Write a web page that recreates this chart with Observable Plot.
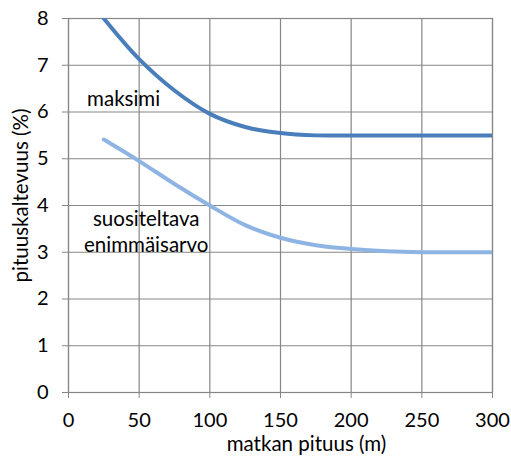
<!DOCTYPE html>
<html>
<head>
<meta charset="utf-8">
<script src="https://cdn.jsdelivr.net/npm/d3@7"></script>
<script src="https://cdn.jsdelivr.net/npm/@observablehq/plot@0.6"></script>
<style>
  html, body { margin: 0; padding: 0; background: #fff; }
  #chart { width: 511px; height: 458px; }
</style>
</head>
<body>
<div id="chart"></div>
<script>
// Data
const distances = [25, 50, 75, 100, 125, 150, 175, 200, 225, 250, 275, 300];
const maksimi = [8.0, 7.13, 6.46, 5.96, 5.68, 5.55, 5.5, 5.5, 5.5, 5.5, 5.5, 5.5];
const suositeltava = [5.41, 4.95, 4.46, 4.0, 3.58, 3.31, 3.15, 3.07, 3.02, 3.0, 3.0, 3.0];
const xTicks = [0, 50, 100, 150, 200, 250, 300];
const yTicks = [0, 1, 2, 3, 4, 5, 6, 7, 8];
const seriesNames = ["maksimi", "suositeltava\nenimmäisarvo"];
const labelX = [39, 55];
const labelY = [6.31, 3.46];
const xTitle = "matkan pituus (m)";
const yTitle = "pituuskaltevuus (%)";

const colors = ["#4A7EBB", "#8EB4E3"];
const rows = [];
distances.forEach((d, i) => {
  rows.push({series: "maksimi", x: d, y: maksimi[i]});
  rows.push({series: "suositeltava", x: d, y: suositeltava[i]});
});
const labels = seriesNames.map((n, i) => ({text: n, x: labelX[i], y: labelY[i]}));

const grid = "#868686";
const font = "Lato, 'Open Sans', sans-serif";
const fs = 20.5;

const chart = Plot.plot({
  width: 511,
  height: 458,
  marginLeft: 68,
  marginRight: 19,
  marginTop: 18,
  marginBottom: 66,
  style: {fontFamily: font, fontSize: fs + "px", color: "#000", background: "#fff", overflow: "visible"},
  x: {domain: [0, 300], ticks: xTicks},
  y: {domain: [0, 8], ticks: yTicks},
  marks: [
    Plot.gridX(xTicks, {stroke: grid, strokeOpacity: 1, strokeWidth: 1.2}),
    Plot.gridY(yTicks, {stroke: grid, strokeOpacity: 1, strokeWidth: 1.2}),
    Plot.frame({stroke: grid, strokeWidth: 1.2}),
    Plot.axisX(xTicks, {tickSize: 6, tickPadding: 14, stroke: grid, fontSize: 20, label: null}),
    Plot.axisY(yTicks, {tickSize: 6, tickPadding: 14, stroke: grid, fontSize: 20, label: null}),
    Plot.line(rows.filter(r => r.series === "suositeltava"), {x: "x", y: "y", stroke: colors[1], strokeWidth: 4, curve: "catmull-rom", clip: true}),
    Plot.line(rows.filter(r => r.series === "maksimi"), {x: "x", y: "y", stroke: colors[0], strokeWidth: 4, curve: "catmull-rom", clip: true}),
    Plot.text(labels, {x: "x", y: "y", text: "text", fontSize: fs, fill: "#000", lineHeight: 1.25}),
    Plot.text([xTitle], {frameAnchor: "bottom", textAnchor: "middle", lineAnchor: "middle", dx: 26, dy: 52, fontSize: fs, fill: "#000"}),
    Plot.text([yTitle], {frameAnchor: "left", textAnchor: "middle", lineAnchor: "middle", rotate: -90, dx: -47.5, dy: -10, fontSize: fs, fill: "#000"})
  ]
});
document.getElementById("chart").appendChild(chart);
</script>
</body>
</html>
